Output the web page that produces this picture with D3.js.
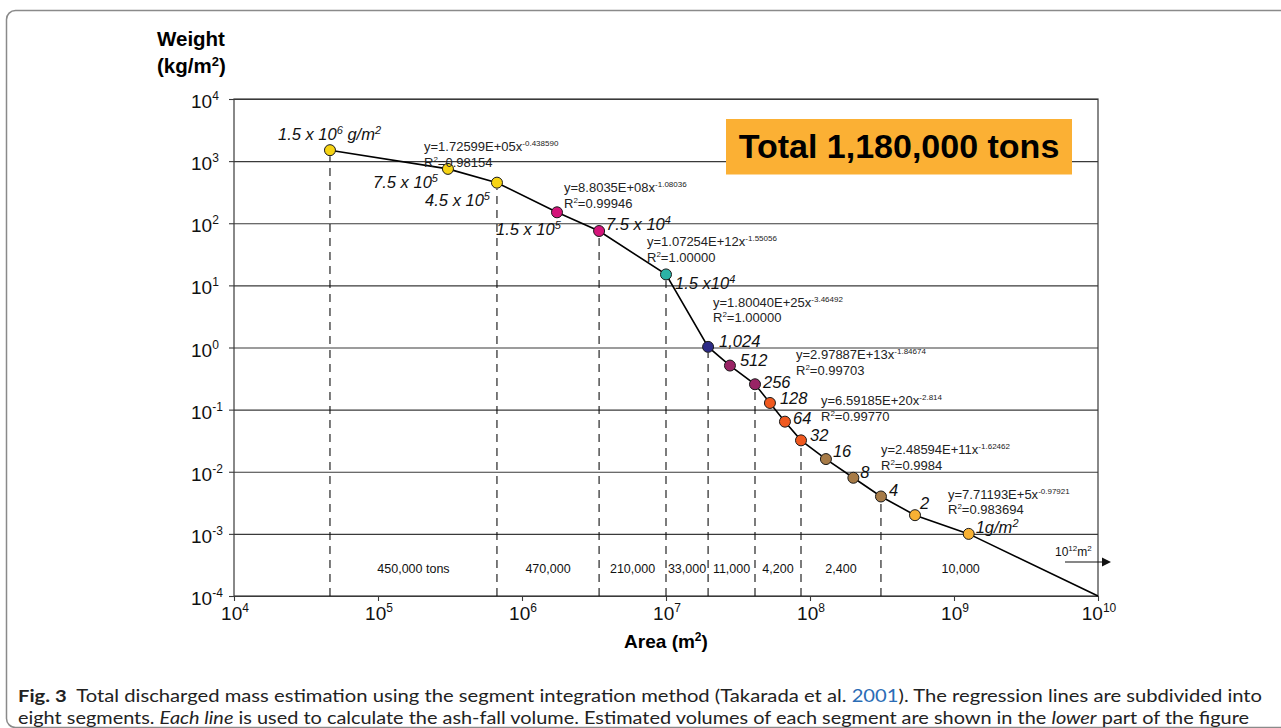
<!DOCTYPE html>
<html>
<head>
<meta charset="utf-8">
<script src="https://cdn.jsdelivr.net/npm/d3@7"></script>
<style>
  html, body { margin: 0; padding: 0; background: #fff; }
  svg { display: block; }
  text { white-space: pre; }
</style>
</head>
<body>
<svg id="chart" width="1281" height="728"></svg>
<script>
// Isopach areas (m²) and ash-fall loads (g/m²) of the sampled isopleths
const areas = [46400, 306000, 670000, 1750000, 3430000, 1.0e7, 1.96e7, 2.78e7, 4.15e7,
               5.27e7, 6.7e7, 8.66e7, 1.29e8, 2.0e8, 3.11e8, 5.36e8, 1.265e9];
const weightsG = [1.5e6, 7.5e5, 4.5e5, 1.5e5, 7.5e4, 1.5e4, 1024, 512, 256,
                  128, 64, 32, 16, 8, 4, 2, 1];
// regression segment each isopleth belongs to
const segmentOf = [0, 0, 0, 1, 1, 2, 3, 4, 4, 5, 5, 5, 6, 6, 6, 7, 7];
const pointLabels = ["1.5 x 10^{6} g/m^{2}", "7.5 x 10^{5}", "4.5 x 10^{5}", "1.5 x 10^{5}",
                     "7.5 x 10^{4}", "1.5 x10^{4}", "1,024", "512", "256", "128", "64",
                     "32", "16", "8", "4", "2", "1g/m^{2}"];
// isopleths that close a segment (drop lines)
const boundaryIdx = [0, 2, 4, 5, 6, 8, 11, 14];
const segmentVolumes = ["450,000 tons", "470,000", "210,000", "33,000", "11,000",
                        "4,200", "2,400", "10,000"];
const equations = ["y=1.72599E+05x^{-0.438590}", "y=8.8035E+08x^{-1.08036}",
                   "y=1.07254E+12x^{-1.55056}", "y=1.80040E+25x^{-3.46492}",
                   "y=2.97887E+13x^{-1.84674}", "y=6.59185E+20x^{-2.814}",
                   "y=2.48594E+11x^{-1.62462}", "y=7.71193E+5x^{-0.97921}"];
const rSquared = ["R^{2}=0.98154", "R^{2}=0.99946", "R^{2}=1.00000", "R^{2}=1.00000",
                  "R^{2}=0.99703", "R^{2}=0.99770", "R^{2}=0.9984", "R^{2}=0.983694"];
// extrapolated tail of the last segment
const tailArea = 1e10;
const tailWeightG = 0.1;
const xTickExps = [4, 5, 6, 7, 8, 9, 10];
const yTickExps = [4, 3, 2, 1, 0, -1, -2, -3, -4];
const totalText = "Total 1,180,000 tons";

// ---- layout ----
const plot = { left: 234, right: 1098, top: 99, bottom: 596 };
const segColors = ["#f6d313", "#d4147a", "#2bb3a6", "#2c2a86", "#992365", "#f0591f", "#a77b47", "#f8b133"];
const FONT = "'Liberation Sans', Arial, Helvetica, sans-serif";

// label placement relative to each isopleth point
const labelLayout = [
  { dx: -52, dy: -10, anchor: "start" }, { dx: -10, dy: 19, anchor: "end" },
  { dx: -7, dy: 23, anchor: "end" },    { dx: -61, dy: 23, anchor: "start" },
  { dx: 7, dy: -1, anchor: "start" },   { dx: 9, dy: 15, anchor: "start" },
  { dx: 11, dy: 0, anchor: "start" },   { dx: 10, dy: 0, anchor: "start" },
  { dx: 8, dy: 4, anchor: "start" },    { dx: 10, dy: 1, anchor: "start" },
  { dx: 8, dy: 2, anchor: "start" },    { dx: 9, dy: 1, anchor: "start" },
  { dx: 7, dy: -2, anchor: "start" },   { dx: 7, dy: 0, anchor: "start" },
  { dx: 8, dy: 0, anchor: "start" },    { dx: 5, dy: -6, anchor: "start" },
  { dx: 7, dy: -1, anchor: "start" }
];
const eqLayout = [[424, 151], [564, 192], [647, 246], [713, 306.5],
                  [796, 359], [821, 405], [881, 454], [948, 498.5]];

const svg = d3.select("#chart");

const x = d3.scaleLog().domain([1e4, 1e10]).range([plot.left, plot.right]);
const y = d3.scaleLog().domain([1e-4, 1e4]).range([plot.bottom, plot.top]);

const pts = areas.map((a, i) => ({
  area: a, kg: weightsG[i] / 1000, seg: segmentOf[i], label: pointLabels[i], i
}));

// text with ^{...} superscripts
function rich(sel, str, supSize, raise) {
  const parts = str.split(/(\^\{[^}]*\})/).filter(s => s.length);
  let up = false;
  parts.forEach(p => {
    const m = p.match(/^\^\{(.*)\}$/);
    if (m) {
      sel.append("tspan").attr("font-size", supSize).attr("dy", up ? 0 : -raise).text(m[1]);
      up = true;
    } else {
      const t = sel.append("tspan").text(p);
      if (up) { t.attr("dy", raise); up = false; }
    }
  });
  return sel;
}

// outer figure frame
svg.append("rect")
  .attr("x", 6.5).attr("y", 10.5).attr("width", 1300).attr("height", 717)
  .attr("rx", 9).attr("fill", "none").attr("stroke", "#8a8a8a").attr("stroke-width", 1.5);

const g = svg.append("g");

// horizontal decade gridlines
g.append("g")
  .attr("transform", `translate(${plot.left},0)`)
  .call(d3.axisLeft(y).tickValues(yTickExps.map(e => Math.pow(10, e)))
          .tickSize(-(plot.right - plot.left)).tickFormat(""))
  .call(a => a.select(".domain").remove())
  .call(a => a.selectAll("line").attr("stroke", "#3a3a3a").attr("stroke-width", 1.1));

// left tick marks
g.append("g")
  .attr("transform", `translate(${plot.left},0)`)
  .call(d3.axisLeft(y).tickValues(yTickExps.map(e => Math.pow(10, e))).tickSize(5).tickFormat(""))
  .call(a => a.select(".domain").remove())
  .call(a => a.selectAll("line").attr("stroke", "#3a3a3a").attr("stroke-width", 1.1));

// bottom tick marks
g.append("g")
  .attr("transform", `translate(0,${plot.bottom})`)
  .call(d3.axisBottom(x).tickValues(xTickExps.map(e => Math.pow(10, e))).tickSize(5).tickFormat(""))
  .call(a => a.select(".domain").remove())
  .call(a => a.selectAll("line").attr("stroke", "#3a3a3a").attr("stroke-width", 1.1));

// plot border
g.append("rect")
  .attr("x", plot.left).attr("y", plot.top)
  .attr("width", plot.right - plot.left).attr("height", plot.bottom - plot.top)
  .attr("fill", "none").attr("stroke", "#3a3a3a").attr("stroke-width", 1.2);

// segment boundary drop lines
g.selectAll(".drop").data(boundaryIdx.map(i => pts[i])).join("line")
  .attr("class", "drop")
  .attr("x1", d => x(d.area)).attr("x2", d => x(d.area))
  .attr("y1", plot.bottom).attr("y2", d => y(d.kg) + 6)
  .attr("stroke", "#111").attr("stroke-width", 1.1).attr("stroke-dasharray", "8,6");

// segment volume labels
const labelEdge = Math.pow(10, 9.6);
const bx = boundaryIdx.map(i => x(areas[i])).concat([x(labelEdge)]);
g.selectAll(".vol").data(segmentVolumes).join("text")
  .attr("class", "vol")
  .attr("x", (d, i) => (bx[i] + bx[i + 1]) / 2)
  .attr("y", 573)
  .attr("text-anchor", "middle")
  .attr("font-family", FONT).attr("font-size", 12.5).attr("fill", "#111")
  .text(d => d);

// regression polyline through the isopleths
const linePts = pts.map(d => [d.area, d.kg]).concat([[tailArea, tailWeightG / 1000]]);
g.append("path")
  .datum(linePts)
  .attr("d", d3.line().x(d => x(d[0])).y(d => y(d[1])))
  .attr("fill", "none").attr("stroke", "#000").attr("stroke-width", 1.6);

// isopleth points
g.selectAll(".pt").data(pts).join("circle")
  .attr("class", "pt")
  .attr("cx", d => x(d.area)).attr("cy", d => y(d.kg)).attr("r", 5.5)
  .attr("fill", d => segColors[d.seg]).attr("stroke", "#1a1a1a").attr("stroke-width", 1);

// isopleth value labels
pts.forEach((d, i) => {
  const L = labelLayout[i];
  const t = g.append("text")
    .attr("x", x(d.area) + L.dx).attr("y", y(d.kg) + L.dy)
    .attr("text-anchor", L.anchor)
    .attr("font-family", FONT).attr("font-style", "italic").attr("font-size", 16.5).attr("fill", "#111");
  rich(t, d.label, 11, 6);
});

// regression equations
equations.forEach((eq, i) => {
  const [ex, ey] = eqLayout[i];
  rich(g.append("text").attr("x", ex).attr("y", ey)
        .attr("font-family", FONT).attr("font-size", 13).attr("fill", "#222"), eq, 8, 5);
  rich(g.append("text").attr("x", ex).attr("y", ey + 15.5)
        .attr("font-family", FONT).attr("font-size", 13).attr("fill", "#222"), rSquared[i], 8, 5);
});

// y tick labels
yTickExps.forEach(e => {
  const t = g.append("text").attr("x", 191).attr("y", y(Math.pow(10, e)) + 9)
    .attr("font-family", FONT).attr("font-size", 19).attr("fill", "#111");
  rich(t, "10^{" + e + "}", 12, 8);
});

// x tick labels
xTickExps.forEach(e => {
  const t = g.append("text").attr("x", x(Math.pow(10, e)) + 1).attr("y", 620)
    .attr("text-anchor", "middle")
    .attr("font-family", FONT).attr("font-size", 19).attr("fill", "#111");
  rich(t, "10^{" + e + "}", 12, 8);
});

// axis titles
g.append("text").attr("x", 157).attr("y", 46)
  .attr("font-family", FONT).attr("font-weight", "bold").attr("font-size", 20.5).attr("fill", "#000")
  .text("Weight");
rich(g.append("text").attr("x", 157).attr("y", 73)
  .attr("font-family", FONT).attr("font-weight", "bold").attr("font-size", 20.5).attr("fill", "#000"),
  "(kg/m^{2})", 13, 7);
rich(g.append("text").attr("x", (plot.left + plot.right) / 2).attr("y", 648)
  .attr("text-anchor", "middle")
  .attr("font-family", FONT).attr("font-weight", "bold").attr("font-size", 19).attr("fill", "#000"),
  "Area (m^{2})", 12, 7);

// extrapolation note with arrow
rich(g.append("text").attr("x", 1055).attr("y", 556)
  .attr("font-family", FONT).attr("font-size", 12).attr("fill", "#111"), "10^{12}m^{2}", 8, 5);
g.append("line").attr("x1", 1065).attr("x2", 1104).attr("y1", 562).attr("y2", 562)
  .attr("stroke", "#111").attr("stroke-width", 1.2);
g.append("path").attr("d", "M1111,562 L1102,557.5 L1102,566.5 Z").attr("fill", "#111");

// total mass banner
g.append("rect").attr("x", 726).attr("y", 119).attr("width", 346).attr("height", 55.5)
  .attr("fill", "#fbb034");
g.append("text").attr("x", 899).attr("y", 158).attr("text-anchor", "middle")
  .attr("font-family", FONT).attr("font-weight", "bold").attr("font-size", 34).attr("fill", "#000")
  .text(totalText);

// caption
const CAP_FONT = "Lato, 'Noto Sans', sans-serif";
const cap1 = svg.append("text").attr("x", 18).attr("y", 702)
  .attr("font-family", CAP_FONT).attr("font-size", 17).attr("fill", "#222")
  .attr("textLength", 1244).attr("lengthAdjust", "spacingAndGlyphs");
cap1.append("tspan").attr("font-weight", "bold").text("Fig. 3");
cap1.append("tspan").text("  Total discharged mass estimation using the segment integration method (Takarada et al. ");
cap1.append("tspan").attr("fill", "#2b6cb5").text("2001");
cap1.append("tspan").text("). The regression lines are subdivided into");

const cap2 = svg.append("text").attr("x", 18).attr("y", 724)
  .attr("font-family", CAP_FONT).attr("font-size", 17).attr("fill", "#222")
  .attr("textLength", 1231).attr("lengthAdjust", "spacingAndGlyphs");
cap2.append("tspan").text("eight segments. ");
cap2.append("tspan").attr("font-style", "italic").text("Each line");
cap2.append("tspan").text(" is used to calculate the ash-fall volume. Estimated volumes of each segment are shown in the ");
cap2.append("tspan").attr("font-style", "italic").text("lower");
cap2.append("tspan").text(" part of the figure");
</script>
</body>
</html>
